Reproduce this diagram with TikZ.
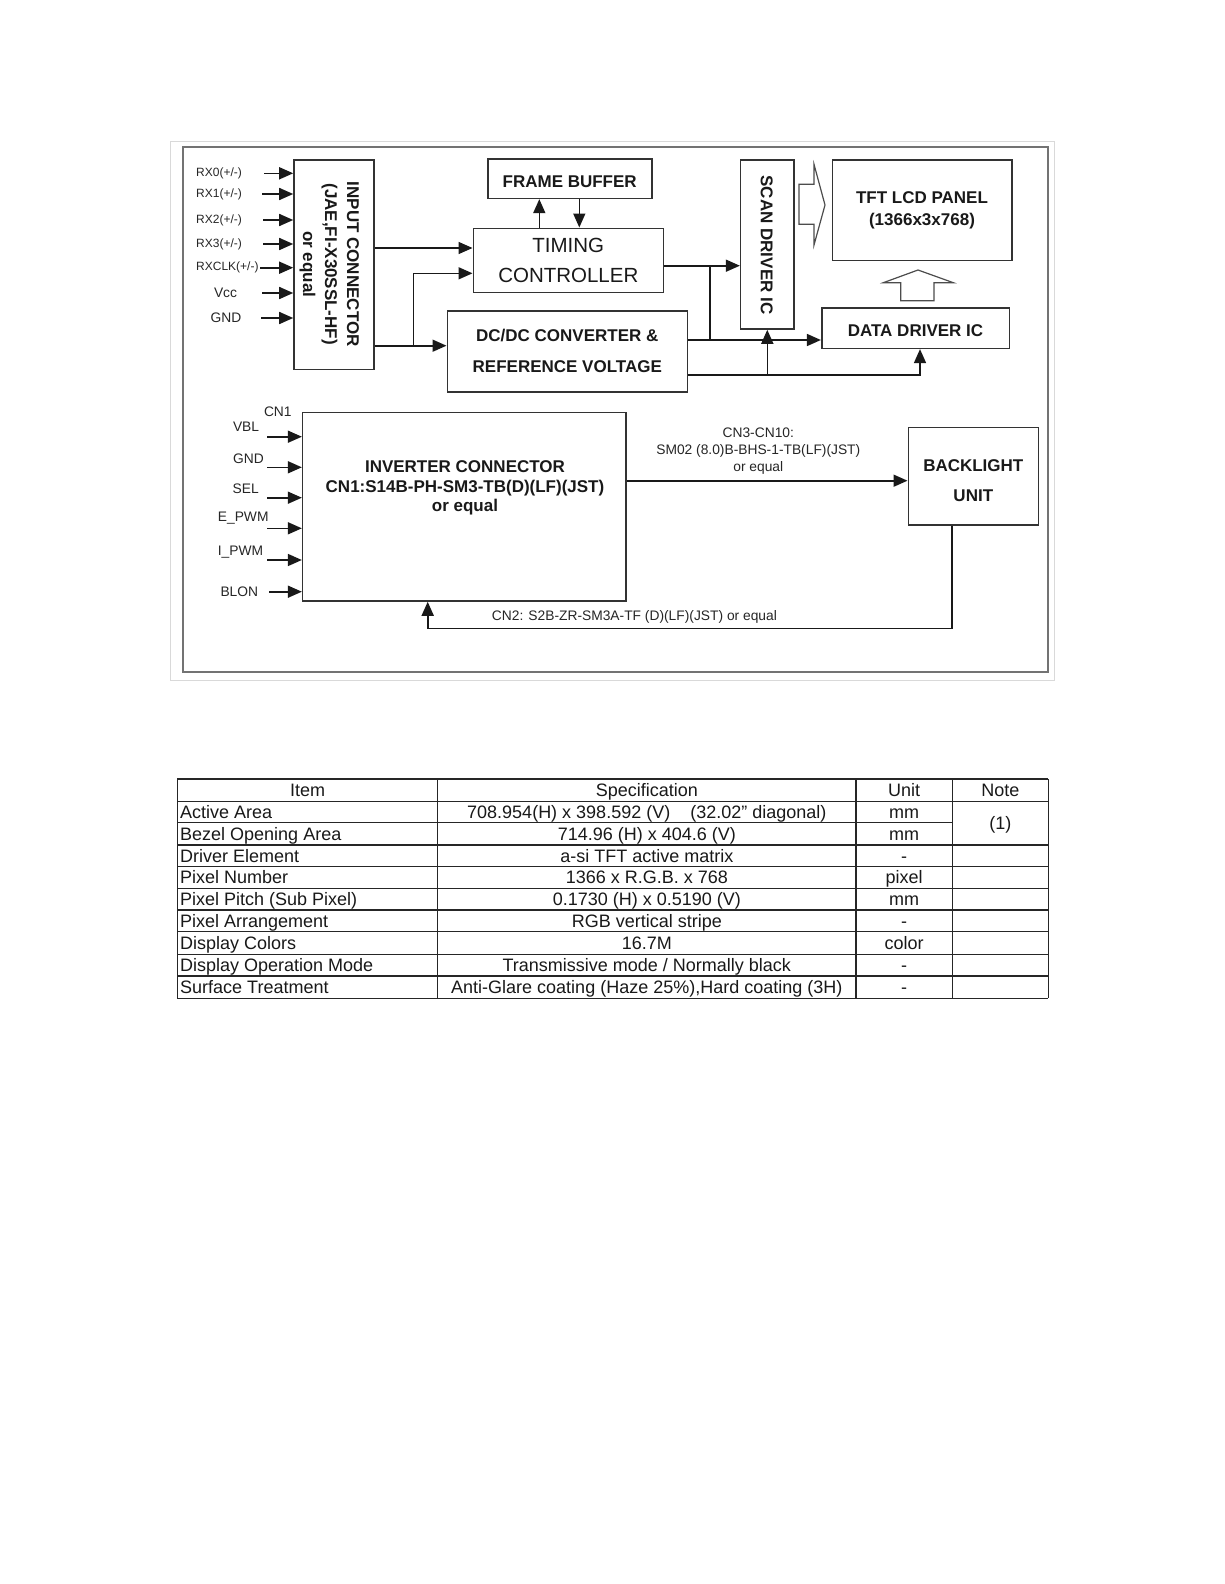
\documentclass[tikz,border=0pt]{standalone}
\usepackage{fontspec}
\setmainfont{Liberation Sans}
\usetikzlibrary{arrows.meta}
\begin{document}
\begin{tikzpicture}[x=1pt,y=-1pt,
 box/.style={draw=black!80,line width=1.6pt,inner sep=0pt,align=center,text=black!90},
 arr/.style={draw=black!90,line width=1.6pt,-{Triangle[length=14pt,width=12pt]}},
 ln/.style={draw=black!90,line width=1.6pt},
 hol/.style={draw=black!70,line width=1.2pt,line join=miter},
 bf/.style={font=\fontsize{17}{20}\selectfont\bfseries,text=black!90,inner sep=0pt},
 sm/.style={font=\fontsize{13.8}{17}\selectfont,text=black!85,inner sep=0pt},
 tn/.style={font=\fontsize{12}{14}\selectfont,text=black!85,inner sep=0pt},
 tb/.style={font=\fontsize{18}{20}\selectfont,text=black!90,inner sep=0pt,text height=12.9pt,text depth=0pt},
 tgrid/.style={draw=black!85,line width=1.2pt}]
\useasboundingbox (0,0) rectangle (1224,1584);
\fill[white] (0,0) rectangle (1224,1584);
% frames
\draw[draw=black!15,line width=1pt] (170,141) rectangle (1054,680);
\draw[draw=black!55,line width=2pt] (182.7,146.7) rectangle (1048,671.7);
% boxes
\node[box,minimum width=80pt,minimum height=209.3pt] (inc) at (334,264.7) {};
\node[font=\fontsize{17}{22}\selectfont\bfseries,text=black!90,inner sep=0pt,rotate=-90,align=center] (inctxt) at (329.2,264.2) {INPUT CONNECTOR\\(JAE,FI-X30SSL-HF)\\or equal};
\node[box,font=\fontsize{20.5}{30}\selectfont,minimum width=190pt,minimum height=64pt] (tim) at (568.3,260.3) {TIMING\\CONTROLLER};
\node[box,bf,text height=18pt,minimum width=164pt,minimum height=39.3pt] (fb) at (569.7,178.7) {FRAME BUFFER};
\node[box,font=\fontsize{17}{30.7}\selectfont\bfseries,minimum width=240pt,minimum height=81pt] (dcdc) at (567.3,351.2) {DC/DC CONVERTER \&\\REFERENCE VOLTAGE};
\node[box,minimum width=53.3pt,minimum height=169pt] (scan) at (767.3,244.5) {};
\node[bf,rotate=-90] (scantxt) at (766.7,245) {SCAN DRIVER IC};
\node[box,font=\fontsize{17}{21.7}\selectfont\bfseries,minimum width=179.4pt,minimum height=100.7pt] (tft) at (922,210.3) {TFT LCD PANEL\\(1366x3x768)};
\node[box,bf,text height=17.5pt,minimum width=187.6pt,minimum height=40.6pt] (dd) at (915.5,328) {DATA DRIVER IC};
\node[box,minimum width=323.3pt,minimum height=188.3pt] (inv) at (464.3,506.8) {};
\node[font=\fontsize{17}{19.5}\selectfont\bfseries,text=black!90,align=center,inner sep=0pt,anchor=north] (invtxt) at (465,460.6) {INVERTER CONNECTOR\\CN1:S14B-PH-SM3-TB(D)(LF)(JST)\\or equal};
\node[box,minimum width=130pt,minimum height=97.3pt] (bl) at (973.3,476.3) {};
\node[font=\fontsize{17}{30}\selectfont\bfseries,text=black!90,align=center,inner sep=0pt] (bltxt) at (973.3,480.7) {BACKLIGHT\\UNIT};
% hollow arrows
\draw[hol] (799,184.3) -- (814,184.3) -- (814,164.3) -- (825,205) -- (814,245) -- (814,224.3) -- (799,224.3) -- cycle;
\draw[hol] (900.7,300.7) -- (900.7,282.7) -- (883.3,282.7) -- (918,270) -- (953.3,282.7) -- (934,282.7) -- (934,300.7) -- cycle;
% input connector inputs
\node[tn,anchor=west] (lrx0) at (196,173.3) {RX0(+/-)};
\node[tn,anchor=west] (lrx1) at (196,194) {RX1(+/-)};
\node[tn,anchor=west] (lrx2) at (196,220) {RX2(+/-)};
\node[tn,anchor=west] (lrx3) at (196,244) {RX3(+/-)};
\node[tn,anchor=west] (lrxc) at (196,267.7) {RXCLK(+/-)};
\node[sm] (lvcc) at (225.5,292.5) {Vcc};
\node[sm] (lgnd) at (226,318) {GND};
\coordinate (srx0) at (264,173.3);
\coordinate (srx1) at (262,194);
\coordinate (srx2) at (263,220);
\coordinate (srx3) at (263,244);
\coordinate (srxc) at (260,267.7);
\coordinate (svcc) at (262,293);
\coordinate (sgnd) at (261,318);
\foreach \s in {srx0,srx1,srx2,srx3,srxc,svcc,sgnd}
  \draw[arr] (\s) -- (\s -| inc.west);
% input connector outputs
\draw[arr] (inc.east |- 0,248) -- (tim.west |- 0,248);
\draw[arr] (inc.east |- 0,345.7) -- (dcdc.west |- 0,345.7);
\coordinate (jin) at (413.3,345.7);
\draw[arr] (jin) |- (tim.west |- 0,273.3);
% frame buffer
\draw[arr] (tim.north -| 539.3,0) -- (fb.south -| 539.3,0);
\draw[arr] (fb.south -| 579.3,0) -- (tim.north -| 579.3,0);
% timing to scan
\draw[arr] (tim.east |- 0,265.7) -- (scan.west |- 0,265.7);
\coordinate (jt) at (710,265.7);
\draw[ln] (jt) -- (710,340);
% dc/dc outputs
\draw[arr] (dcdc.east |- 0,340) -- (dd.west |- 0,340);
\draw[arr] (dcdc.east |- 0,375) -| (dd.south -| 920,0);
\draw[arr] (scan.south |- 0,375) -- (scan.south);
% inverter inputs
\node[sm] (lcn1) at (277.8,412) {CN1};
\node[sm,anchor=east] (lvbl) at (259.3,426.7) {VBL};
\node[sm,anchor=east] (lig) at (264,458.3) {GND};
\node[sm,anchor=east] (lsel) at (259,488.7) {SEL};
\node[sm,anchor=east] (lepwm) at (268.7,518.3) {E\_PWM};
\node[sm,anchor=east] (lipwm) at (263.3,551.7) {I\_PWM};
\node[sm,anchor=east] (lblon) at (258.3,591.7) {BLON};
\coordinate (svbl) at (267.3,436.7);
\coordinate (sig) at (267.3,467.3);
\coordinate (ssel) at (267.3,497.7);
\coordinate (sepwm) at (267.3,528.3);
\coordinate (sipwm) at (267.3,560);
\coordinate (sblon) at (269,591.7);
\foreach \s in {svbl,sig,ssel,sepwm,sipwm,sblon}
  \draw[arr] (\s) -- (\s -| inv.west);
% inverter - backlight
\draw[arr] (inv.east |- 0,480.7) -- (bl.west |- 0,480.7);
\node[sm,align=center,anchor=north] (lcn3) at (758.3,427.3) {CN3-CN10:\\SM02 (8.0)B-BHS-1-TB(LF)(JST)\\or equal};
\coordinate (cn2c) at (427.7,628.3);
\draw[arr] (bl.south -| 951.7,0) |- (cn2c) -- (inv.south -| cn2c);
\node[sm,anchor=west] (lcn2) at (491.7,616.7) {CN2: S2B-ZR-SM3A-TF (D)(LF)(JST) or equal};
% table
\def\TL{177.3}\def\TA{437.7}\def\TB{856}\def\TC{952.3}\def\TR{1048.3}
\foreach \yy in {779,801.7,845,866.7,888.3,910,931.7,954.3,976,998.3}
  \draw[tgrid] (\TL,\yy) -- (\TR,\yy);
\draw[tgrid] (\TL,822.3) -- (\TC,822.3);
\foreach \xx in {\TL,\TA,\TB,\TC,\TR}
  \draw[tgrid] (\xx,779) -- (\xx,998.3);
\node[tb] (h1) at (307.5,790.35) {Item};
\node[tb] (h2) at (646.8,790.35) {Specification};
\node[tb] (h3) at (904.2,790.35) {Unit};
\node[tb] (h4) at (1000.3,790.35) {Note};
\node[tb,anchor=west] (a1) at (180,812) {Active Area};
\node[tb] (b1) at (646.8,812) {708.954(H) x 398.592 (V)\hspace{20pt}(32.02” diagonal)};
\node[tb] (c1) at (904.2,812) {mm};
\node[tb] (d1) at (1000.3,823.3) {(1)};
\node[tb,anchor=west] (a2) at (180,833.65) {Bezel Opening Area};
\node[tb] (b2) at (646.8,833.65) {714.96 (H) x 404.6 (V)};
\node[tb] (c2) at (904.2,833.65) {mm};
\node[tb,anchor=west] (a3) at (180,855.85) {Driver Element};
\node[tb] (b3) at (646.8,855.85) {a-si TFT active matrix};
\node[tb] (c3) at (904.2,855.85) {-};
\node[tb,anchor=west] (a4) at (180,877.5) {Pixel Number};
\node[tb] (b4) at (646.8,877.5) {1366 x R.G.B. x 768};
\node[tb] (c4) at (904.2,877.5) {pixel};
\node[tb,anchor=west] (a5) at (180,899.15) {Pixel Pitch (Sub Pixel)};
\node[tb] (b5) at (646.8,899.15) {0.1730 (H) x 0.5190 (V)};
\node[tb] (c5) at (904.2,899.15) {mm};
\node[tb,anchor=west] (a6) at (180,920.85) {Pixel Arrangement};
\node[tb] (b6) at (646.8,920.85) {RGB vertical stripe};
\node[tb] (c6) at (904.2,920.85) {-};
\node[tb,anchor=west] (a7) at (180,943) {Display Colors};
\node[tb] (b7) at (646.8,943) {16.7M};
\node[tb] (c7) at (904.2,943) {color};
\node[tb,anchor=west] (a8) at (180,965.15) {Display Operation Mode};
\node[tb] (b8) at (646.8,965.15) {Transmissive mode / Normally black};
\node[tb] (c8) at (904.2,965.15) {-};
\node[tb,anchor=west] (a9) at (180,987.15) {Surface Treatment};
\node[tb] (b9) at (646.8,987.15) {Anti-Glare coating (Haze 25\%),Hard coating (3H)};
\node[tb] (c9) at (904.2,987.15) {-};
\end{tikzpicture}
\end{document}
